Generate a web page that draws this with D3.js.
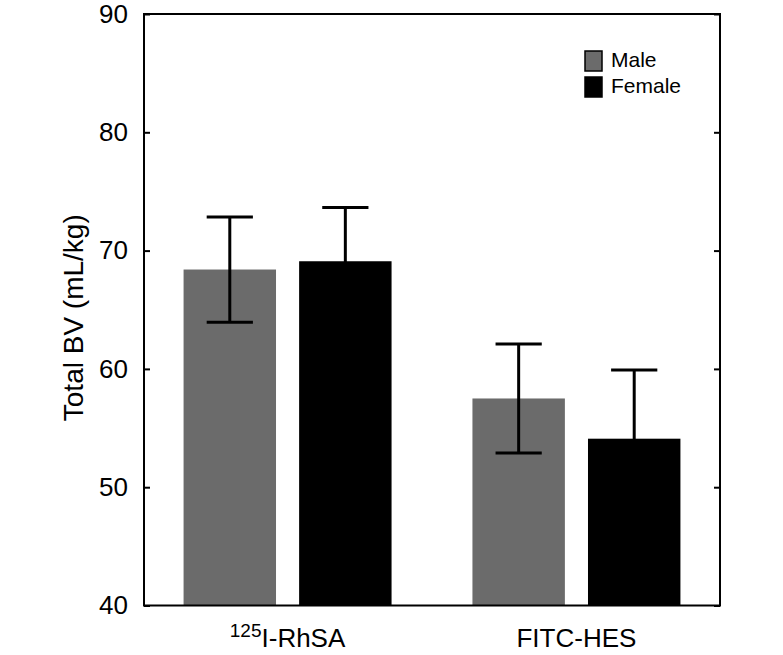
<!DOCTYPE html>
<html>
<head>
<meta charset="utf-8">
<script src="https://cdn.jsdelivr.net/npm/d3@7"></script>
<style>
  html, body { margin: 0; padding: 0; background: #fff; }
  svg { display: block; font-family: "Liberation Sans", Arial, sans-serif; }
</style>
</head>
<body>
<svg id="chart" width="783" height="655"></svg>
<script>
// ---- data ----
const groups = ["125I-RhSA", "FITC-HES"];
const sexes = ["Male", "Female"];
const maleValues = [68.4, 57.5];
const femaleValues = [69.1, 54.1];
const maleErrors = [4.45, 4.6];
const femaleErrors = [4.55, 5.8];
const yTicks = [40, 50, 60, 70, 80, 90];
const colors = ["#6b6b6b", "#000000"];

const svg = d3.select("#chart");
const L = 144, R = 720, T = 14, B = 605.5;

const y = d3.scaleLinear().domain([40, 90]).range([B, T]);
const x0 = d3.scaleBand().domain(groups).range([L, R]).paddingInner(0.28).paddingOuter(0.137);
const x1 = d3.scaleBand().domain(sexes).range([0, x0.bandwidth()]).paddingInner(0.2).paddingOuter(0);

const data = [];
groups.forEach((g, i) => {
  data.push({g, s: "Male", v: maleValues[i], e: maleErrors[i], c: colors[0]});
  data.push({g, s: "Female", v: femaleValues[i], e: femaleErrors[i], c: colors[1]});
});

// bars
svg.append("g").selectAll("rect").data(data).join("rect")
  .attr("x", d => x0(d.g) + x1(d.s))
  .attr("y", d => y(d.v))
  .attr("width", x1.bandwidth())
  .attr("height", d => y(40) - y(d.v))
  .attr("fill", d => d.c);

// error bars
const eg = svg.append("g").attr("stroke", "#000").attr("stroke-width", 3);
const capW = x1.bandwidth() / 2;
data.forEach(d => {
  const cx = x0(d.g) + x1(d.s) + x1.bandwidth() / 2;
  eg.append("line").attr("x1", cx).attr("x2", cx).attr("y1", y(d.v + d.e)).attr("y2", y(d.v - d.e));
  eg.append("line").attr("x1", cx - capW / 2).attr("x2", cx + capW / 2).attr("y1", y(d.v + d.e)).attr("y2", y(d.v + d.e));
  eg.append("line").attr("x1", cx - capW / 2).attr("x2", cx + capW / 2).attr("y1", y(d.v - d.e)).attr("y2", y(d.v - d.e));
});

// frame
svg.append("rect").attr("x", L).attr("y", T).attr("width", R - L).attr("height", B - T)
  .attr("fill", "none").attr("stroke", "#000").attr("stroke-width", 2);

// left axis
const yAxisL = d3.axisLeft(y).tickValues(yTicks).tickSizeInner(-6).tickSizeOuter(0).tickPadding(16);
const gl = svg.append("g").attr("transform", `translate(${L},0)`).call(yAxisL);
gl.select(".domain").remove();
gl.selectAll(".tick line").attr("stroke-width", 2);
gl.selectAll(".tick text").attr("font-size", 26).attr("fill", "#000").attr("font-family", "Liberation Sans, Arial, sans-serif");

// right axis ticks
const yAxisR = d3.axisRight(y).tickValues(yTicks).tickSizeInner(-6).tickSizeOuter(0).tickFormat("");
const gr = svg.append("g").attr("transform", `translate(${R},0)`).call(yAxisR);
gr.select(".domain").remove();
gr.selectAll(".tick line").attr("stroke-width", 2);

// x labels
const xl = svg.append("g").attr("font-size", 26).attr("fill", "#000");
groups.forEach(g => {
  const t = xl.append("text").attr("x", x0(g) + x0.bandwidth() / 2).attr("y", 647).attr("text-anchor", "middle");
  if (g.startsWith("125")) {
    t.append("tspan").text("125").attr("font-size", 19).attr("dy", -10);
    t.append("tspan").text(g.slice(3)).attr("dy", 10);
  } else {
    t.text(g);
  }
});

// y label
svg.append("text").attr("transform", `translate(83,${(T + B) / 2 + 8}) rotate(-90)`)
  .attr("text-anchor", "middle").attr("font-size", 28).text("Total BV (mL/kg)");

// legend
const lg = svg.append("g").attr("transform", "translate(585,51)");
sexes.forEach((s, i) => {
  const row = lg.append("g").attr("transform", `translate(0,${i * 26})`);
  row.append("rect").attr("x", 0).attr("y", 0).attr("width", 17).attr("height", 20)
    .attr("fill", colors[i]).attr("stroke", "#000").attr("stroke-width", 1.5);
  row.append("text").attr("x", 26).attr("y", 16).attr("font-size", 21).text(s);
});
</script>
</body>
</html>
